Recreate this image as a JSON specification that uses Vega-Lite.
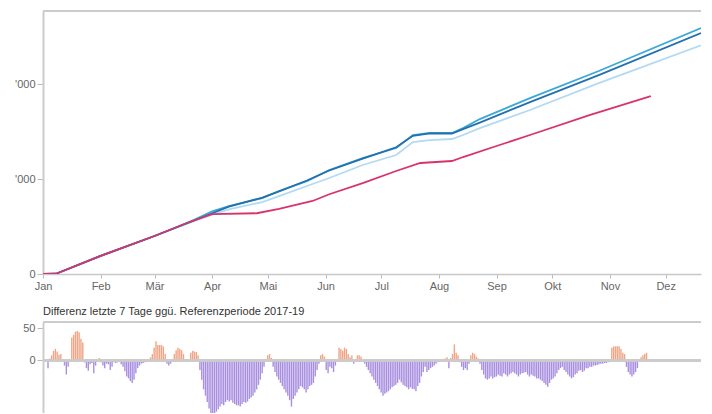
{
"$schema": "https://vega.github.io/schema/vega-lite/v6.json",
"padding": {"left": 14, "top": 10, "right": 0, "bottom": 0},
"background": "white",
"spacing": 15,
"config": {
  "view": {"stroke": null},
  "font": "Liberation Sans",
  "axis": {"labelFont": "Liberation Sans", "labelFontSize": 11, "labelColor": "#666", "domainColor": "#c8c8c8", "domainWidth": 1.5, "tickColor": "#bbb", "grid": false},
  "title": {"font": "Liberation Sans", "fontSize": 11, "fontWeight": "normal", "color": "#333", "anchor": "start", "frame": "group"}
},
"datasets": {
"lines": [
{"s":"2017","tag":0,"v":0},{"s":"2017","tag":7,"v":30},{"s":"2017","tag":31,"v":1900},{"s":"2017","tag":60,"v":4000},{"s":"2017","tag":79,"v":5400},{"s":"2017","tag":91,"v":6250},{"s":"2017","tag":100,"v":6800},{"s":"2017","tag":118,"v":7580},{"s":"2017","tag":127,"v":8210},{"s":"2017","tag":142,"v":9270},{"s":"2017","tag":154,"v":10110},{"s":"2017","tag":172,"v":11480},{"s":"2017","tag":190,"v":12530},{"s":"2017","tag":199,"v":13900},{"s":"2017","tag":208,"v":14110},{"s":"2017","tag":220,"v":14220},{"s":"2017","tag":226,"v":14640},{"s":"2017","tag":235,"v":15370},{"s":"2017","tag":262,"v":17270},{"s":"2017","tag":299,"v":20110},{"s":"2017","tag":354,"v":24080},
{"s":"2018","tag":0,"v":0},{"s":"2018","tag":7,"v":30},{"s":"2018","tag":31,"v":1900},{"s":"2018","tag":60,"v":4000},{"s":"2018","tag":79,"v":5500},{"s":"2018","tag":91,"v":6600},{"s":"2018","tag":100,"v":7160},{"s":"2018","tag":118,"v":8000},{"s":"2018","tag":127,"v":8740},{"s":"2018","tag":142,"v":9790},{"s":"2018","tag":154,"v":10950},{"s":"2018","tag":172,"v":12210},{"s":"2018","tag":190,"v":13270},{"s":"2018","tag":199,"v":14640},{"s":"2018","tag":208,"v":14850},{"s":"2018","tag":220,"v":14850},{"s":"2018","tag":226,"v":15370},{"s":"2018","tag":235,"v":16320},{"s":"2018","tag":262,"v":18530},{"s":"2018","tag":299,"v":21380},{"s":"2018","tag":354,"v":25900},
{"s":"2019","tag":0,"v":0},{"s":"2019","tag":7,"v":30},{"s":"2019","tag":31,"v":1900},{"s":"2019","tag":60,"v":4000},{"s":"2019","tag":79,"v":5450},{"s":"2019","tag":91,"v":6400},{"s":"2019","tag":100,"v":7100},{"s":"2019","tag":118,"v":8050},{"s":"2019","tag":127,"v":8700},{"s":"2019","tag":142,"v":9850},{"s":"2019","tag":154,"v":10900},{"s":"2019","tag":172,"v":12150},{"s":"2019","tag":190,"v":13350},{"s":"2019","tag":199,"v":14550},{"s":"2019","tag":208,"v":14800},{"s":"2019","tag":220,"v":14800},{"s":"2019","tag":226,"v":15250},{"s":"2019","tag":235,"v":15950},{"s":"2019","tag":262,"v":18110},{"s":"2019","tag":299,"v":20950},{"s":"2019","tag":354,"v":25370},
{"s":"2020","tag":0,"v":0},{"s":"2020","tag":7,"v":30},{"s":"2020","tag":31,"v":1900},{"s":"2020","tag":60,"v":4000},{"s":"2020","tag":79,"v":5500},{"s":"2020","tag":91,"v":6300},{"s":"2020","tag":115,"v":6400},{"s":"2020","tag":127,"v":6850},{"s":"2020","tag":145,"v":7690},{"s":"2020","tag":154,"v":8400},{"s":"2020","tag":172,"v":9580},{"s":"2020","tag":190,"v":10850},{"s":"2020","tag":203,"v":11690},{"s":"2020","tag":220,"v":11900},{"s":"2020","tag":226,"v":12320},{"s":"2020","tag":244,"v":13480},{"s":"2020","tag":262,"v":14640},{"s":"2020","tag":294,"v":16740},{"s":"2020","tag":327,"v":18740}
],
"diff": [
{"tag":0,"v":-12},{"tag":1,"v":3},{"tag":2,"v":8},{"tag":3,"v":15},{"tag":4,"v":18},{"tag":5,"v":14},{"tag":6,"v":9},{"tag":7,"v":10},{"tag":8,"v":-2},{"tag":9,"v":-8},{"tag":10,"v":-22},{"tag":11,"v":-10},{"tag":12,"v":2},{"tag":13,"v":36},{"tag":14,"v":40},{"tag":15,"v":45},{"tag":16,"v":46},{"tag":17,"v":44},{"tag":18,"v":34},{"tag":19,"v":28},{"tag":20,"v":-3},{"tag":21,"v":-12},{"tag":22,"v":-16},{"tag":23,"v":-6},{"tag":24,"v":-4},{"tag":25,"v":-20},{"tag":26,"v":-8},{"tag":27,"v":-2},{"tag":28,"v":4},{"tag":29,"v":-3},
{"tag":30,"v":-8},{"tag":31,"v":-12},{"tag":32,"v":-5},{"tag":33,"v":-6},{"tag":34,"v":-15},{"tag":35,"v":-10},{"tag":36,"v":-3},{"tag":37,"v":-4},{"tag":38,"v":-3},{"tag":39,"v":-2},{"tag":40,"v":-6},{"tag":41,"v":-10},{"tag":42,"v":-17},{"tag":43,"v":-25},{"tag":44,"v":-28},{"tag":45,"v":-32},{"tag":46,"v":-35},{"tag":47,"v":-30},{"tag":48,"v":-20},{"tag":49,"v":-12},{"tag":50,"v":-8},{"tag":51,"v":-5},{"tag":52,"v":-4},{"tag":53,"v":-3},{"tag":54,"v":-2},{"tag":55,"v":-2},{"tag":56,"v":5},{"tag":57,"v":10},{"tag":58,"v":20},{"tag":59,"v":30},
{"tag":60,"v":24},{"tag":61,"v":24},{"tag":62,"v":24},{"tag":63,"v":22},{"tag":64,"v":10},{"tag":65,"v":-5},{"tag":66,"v":-8},{"tag":67,"v":-5},{"tag":68,"v":2},{"tag":69,"v":10},{"tag":70,"v":16},{"tag":71,"v":20},{"tag":72,"v":18},{"tag":73,"v":16},{"tag":74,"v":10},{"tag":75,"v":2},{"tag":76,"v":-1},{"tag":77,"v":1},{"tag":78,"v":12},{"tag":79,"v":15},{"tag":80,"v":14},{"tag":81,"v":13},{"tag":82,"v":8},{"tag":83,"v":-15},{"tag":84,"v":-30},{"tag":85,"v":-45},{"tag":86,"v":-55},{"tag":87,"v":-65},{"tag":88,"v":-75},{"tag":89,"v":-82},
{"tag":90,"v":-90},{"tag":91,"v":-88},{"tag":92,"v":-80},{"tag":93,"v":-76},{"tag":94,"v":-72},{"tag":95,"v":-68},{"tag":96,"v":-70},{"tag":97,"v":-65},{"tag":98,"v":-62},{"tag":99,"v":-64},{"tag":100,"v":-62},{"tag":101,"v":-66},{"tag":102,"v":-68},{"tag":103,"v":-70},{"tag":104,"v":-70},{"tag":105,"v":-72},{"tag":106,"v":-68},{"tag":107,"v":-65},{"tag":108,"v":-66},{"tag":109,"v":-64},{"tag":110,"v":-60},{"tag":111,"v":-58},{"tag":112,"v":-55},{"tag":113,"v":-50},{"tag":114,"v":-45},{"tag":115,"v":-38},{"tag":116,"v":-30},{"tag":117,"v":-20},{"tag":118,"v":-10},{"tag":119,"v":2},
{"tag":120,"v":8},{"tag":121,"v":10},{"tag":122,"v":4},{"tag":123,"v":-10},{"tag":124,"v":-18},{"tag":125,"v":-25},{"tag":126,"v":-30},{"tag":127,"v":-35},{"tag":128,"v":-40},{"tag":129,"v":-45},{"tag":130,"v":-50},{"tag":131,"v":-55},{"tag":132,"v":-62},{"tag":133,"v":-72},{"tag":134,"v":-60},{"tag":135,"v":-55},{"tag":136,"v":-50},{"tag":137,"v":-45},{"tag":138,"v":-40},{"tag":139,"v":-42},{"tag":140,"v":-45},{"tag":141,"v":-50},{"tag":142,"v":-45},{"tag":143,"v":-40},{"tag":144,"v":-38},{"tag":145,"v":-35},{"tag":146,"v":-25},{"tag":147,"v":-15},{"tag":148,"v":-5},{"tag":149,"v":8},
{"tag":150,"v":10},{"tag":151,"v":6},{"tag":152,"v":-15},{"tag":153,"v":-20},{"tag":154,"v":-10},{"tag":155,"v":-12},{"tag":156,"v":-18},{"tag":157,"v":-8},{"tag":158,"v":2},{"tag":159,"v":20},{"tag":160,"v":18},{"tag":161,"v":15},{"tag":162,"v":20},{"tag":163,"v":18},{"tag":164,"v":10},{"tag":165,"v":5},{"tag":166,"v":8},{"tag":167,"v":-5},{"tag":168,"v":2},{"tag":169,"v":8},{"tag":170,"v":8},{"tag":171,"v":6},{"tag":172,"v":2},{"tag":173,"v":-5},{"tag":174,"v":-10},{"tag":175,"v":-15},{"tag":176,"v":-20},{"tag":177,"v":-25},{"tag":178,"v":-30},{"tag":179,"v":-35},
{"tag":180,"v":-40},{"tag":181,"v":-45},{"tag":182,"v":-50},{"tag":183,"v":-55},{"tag":184,"v":-52},{"tag":185,"v":-50},{"tag":186,"v":-48},{"tag":187,"v":-45},{"tag":188,"v":-42},{"tag":189,"v":-40},{"tag":190,"v":-38},{"tag":191,"v":-35},{"tag":192,"v":-30},{"tag":193,"v":-34},{"tag":194,"v":-38},{"tag":195,"v":-40},{"tag":196,"v":-42},{"tag":197,"v":-45},{"tag":198,"v":-42},{"tag":199,"v":-44},{"tag":200,"v":-45},{"tag":201,"v":-48},{"tag":202,"v":-40},{"tag":203,"v":-35},{"tag":204,"v":-25},{"tag":205,"v":-18},{"tag":206,"v":-10},{"tag":207,"v":-18},{"tag":208,"v":-15},{"tag":209,"v":-12},
{"tag":210,"v":-10},{"tag":211,"v":-8},{"tag":212,"v":-5},{"tag":213,"v":-3},{"tag":214,"v":-2},{"tag":215,"v":-1},{"tag":216,"v":2},{"tag":217,"v":3},{"tag":218,"v":5},{"tag":219,"v":-12},{"tag":220,"v":4},{"tag":221,"v":10},{"tag":222,"v":25},{"tag":223,"v":12},{"tag":224,"v":8},{"tag":225,"v":-3},{"tag":226,"v":-10},{"tag":227,"v":-15},{"tag":228,"v":-12},{"tag":229,"v":-15},{"tag":230,"v":-5},{"tag":231,"v":8},{"tag":232,"v":12},{"tag":233,"v":10},{"tag":234,"v":6},{"tag":235,"v":3},{"tag":236,"v":-5},{"tag":237,"v":-15},{"tag":238,"v":-22},{"tag":239,"v":-28},
{"tag":240,"v":-30},{"tag":241,"v":-28},{"tag":242,"v":-25},{"tag":243,"v":-28},{"tag":244,"v":-26},{"tag":245,"v":-25},{"tag":246,"v":-22},{"tag":247,"v":-24},{"tag":248,"v":-25},{"tag":249,"v":-20},{"tag":250,"v":-22},{"tag":251,"v":-25},{"tag":252,"v":-22},{"tag":253,"v":-20},{"tag":254,"v":-18},{"tag":255,"v":-20},{"tag":256,"v":-22},{"tag":257,"v":-25},{"tag":258,"v":-22},{"tag":259,"v":-20},{"tag":260,"v":-19},{"tag":261,"v":-18},{"tag":262,"v":-22},{"tag":263,"v":-25},{"tag":264,"v":-22},{"tag":265,"v":-24},{"tag":266,"v":-25},{"tag":267,"v":-28},{"tag":268,"v":-28},{"tag":269,"v":-30},
{"tag":270,"v":-32},{"tag":271,"v":-35},{"tag":272,"v":-38},{"tag":273,"v":-41},{"tag":274,"v":-35},{"tag":275,"v":-30},{"tag":276,"v":-28},{"tag":277,"v":-25},{"tag":278,"v":-20},{"tag":279,"v":-15},{"tag":280,"v":-12},{"tag":281,"v":-10},{"tag":282,"v":-15},{"tag":283,"v":-18},{"tag":284,"v":-22},{"tag":285,"v":-25},{"tag":286,"v":-28},{"tag":287,"v":-26},{"tag":288,"v":-22},{"tag":289,"v":-20},{"tag":290,"v":-16},{"tag":291,"v":-15},{"tag":292,"v":-18},{"tag":293,"v":-16},{"tag":294,"v":-12},{"tag":295,"v":-12},{"tag":296,"v":-10},{"tag":297,"v":-10},{"tag":298,"v":-8},{"tag":299,"v":-8},
{"tag":300,"v":-7},{"tag":301,"v":-6},{"tag":302,"v":-5},{"tag":303,"v":-5},{"tag":304,"v":-4},{"tag":305,"v":-4},{"tag":306,"v":-3},{"tag":307,"v":-2},{"tag":308,"v":20},{"tag":309,"v":22},{"tag":310,"v":22},{"tag":311,"v":22},{"tag":312,"v":22},{"tag":313,"v":18},{"tag":314,"v":12},{"tag":315,"v":10},{"tag":316,"v":-10},{"tag":317,"v":-18},{"tag":318,"v":-22},{"tag":319,"v":-25},{"tag":320,"v":-22},{"tag":321,"v":-18},{"tag":322,"v":-12},{"tag":323,"v":2},{"tag":324,"v":5},{"tag":325,"v":8},{"tag":326,"v":10},{"tag":327,"v":12}
]
},
"vconcat": [
{
  "width": 658, "height": 263,
  "data": {"name": "lines"},
  "layer": [
    {"mark": {"type": "line", "strokeWidth": 1.8, "clip": true},
     "encoding": {
       "x": {"field": "tag", "type": "quantitative", "scale": {"domain": [0, 354], "nice": false, "zero": false},
             "axis": {"title": null, "values": [0,31,60,91,121,152,182,213,244,274,305,335], "labelExpr": "['Jan','Feb','Mär','Apr','Mai','Jun','Jul','Aug','Sep','Okt','Nov','Dez'][indexof([0,31,60,91,121,152,182,213,244,274,305,335], datum.value)]", "tickSize": 4, "labelPadding": 2, "labelFlush": false}},
       "y": {"field": "v", "type": "quantitative", "scale": {"domain": [0, 27700], "nice": false},
             "axis": {"title": null, "values": [0, 10000, 20000], "labelExpr": "datum.value === 0 ? '0' : \"'000\"", "tickSize": 6, "labelPadding": 2, "domainWidth": 2, "domainColor": "#cccccc"}},
       "color": {"field": "s", "type": "nominal", "scale": {"domain": ["2017","2018","2019","2020"], "range": ["#b3daf2","#3aa8d8","#2370ad","#d8336f"]}, "legend": null}
     }},
    {"mark": {"type": "rule", "color": "#cccccc", "strokeWidth": 2},
     "encoding": {"y": {"datum": 27700, "type": "quantitative"}}}
  ]
},
{
  "width": 658, "height": 91,
  "title": {"text": "Differenz letzte 7 Tage ggü. Referenzperiode 2017-19", "offset": 4},
  "data": {"name": "diff"},
  "layer": [
    {"mark": {"type": "bar", "width": 1.4, "clip": true},
     "encoding": {
       "x": {"field": "tag", "type": "quantitative", "scale": {"domain": [0, 354], "nice": false, "zero": false}, "axis": null},
       "y": {"field": "v", "type": "quantitative", "scale": {"domain": [-82, 60], "nice": false},
             "axis": {"title": null, "values": [0, 50], "tickSize": 6, "labelPadding": 2, "domainWidth": 2, "domainColor": "#cccccc"}},
       "color": {"condition": {"test": "datum.v > 0", "value": "#f2a486"}, "value": "#a88fe0"}
     }},
    {"mark": {"type": "rule", "color": "#cccccc", "strokeWidth": 1.5},
     "encoding": {"y": {"datum": 0, "type": "quantitative"}}},
    {"mark": {"type": "rule", "color": "#cccccc", "strokeWidth": 2},
     "encoding": {"y": {"datum": 60, "type": "quantitative"}}}
  ]
}
]
}
